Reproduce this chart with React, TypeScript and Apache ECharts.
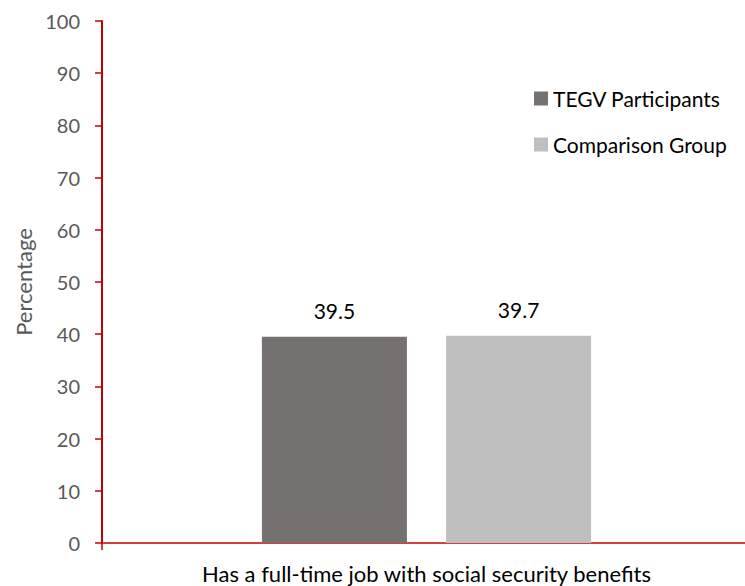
import React, { useEffect, useRef } from "react";
import * as echarts from "echarts";

const categories = ["Has a full-time job with social security benefits"];
const seriesNames = ["TEGV Participants", "Comparison Group"];
const tegvValues = [39.5];
const comparisonValues = [39.7];
const yTicks = { min: 0, max: 100, interval: 10 };

const FONT = "Lato";
const RED = "#c00000";

export default function App() {
  const ref = useRef<HTMLDivElement>(null);
  useEffect(() => {
    if (!ref.current) return;
    const chart = echarts.init(ref.current, null, { renderer: "svg" });
    chart.setOption({
      animation: false,
      textStyle: { fontFamily: FONT },
      grid: { left: 102, width: 649, top: 21, bottom: 43, containLabel: false, outerBoundsMode: "none" },
      legend: {
        orient: "vertical",
        left: 529,
        top: 83,
        itemWidth: 14,
        itemHeight: 14,
        itemGap: 25,
        icon: "rect",
        textStyle: { fontFamily: FONT, fontSize: 21, color: "#000" },
        data: seriesNames,
      },
      xAxis: {
        type: "category",
        data: categories,
        axisLine: { lineStyle: { color: RED, width: 1.5 } },
        axisTick: { show: true, length: 7, lineStyle: { color: RED, width: 1.5 } },
        axisLabel: { color: "#000", fontSize: 22, margin: 19, fontFamily: FONT },
      },
      yAxis: {
        type: "value",
        min: yTicks.min,
        max: yTicks.max,
        interval: yTicks.interval,
        name: "Percentage",
        nameLocation: "middle",
        nameGap: 67,
        nameTextStyle: { color: "#595959", fontSize: 22, fontFamily: FONT },
        axisLine: { show: true, lineStyle: { color: RED, width: 2 } },
        axisTick: { show: true, length: 7, lineStyle: { color: RED, width: 1.5 } },
        axisLabel: { color: "#595959", fontSize: 20, margin: 22, fontFamily: FONT },
        splitLine: { show: false },
      },
      series: [
        {
          name: seriesNames[0],
          type: "bar",
          data: tegvValues,
          barWidth: 145,
          barGap: "27%",
          itemStyle: { color: "#767171" },
          label: { show: true, position: "top", distance: 16, color: "#000", fontSize: 21, fontFamily: FONT },
        },
        {
          name: seriesNames[1],
          type: "bar",
          data: comparisonValues,
          barWidth: 145,
          itemStyle: { color: "#bfbfbf" },
          label: { show: true, position: "top", distance: 16, color: "#000", fontSize: 21, fontFamily: FONT },
        },
      ],
    });
    return () => chart.dispose();
  }, []);
  return (
    <div style={{ position: "absolute", left: 0, top: 0, width: 745, height: 586, overflow: "hidden" }}>
      <div ref={ref} style={{ width: 745, height: 586 }} />
    </div>
  );
}
